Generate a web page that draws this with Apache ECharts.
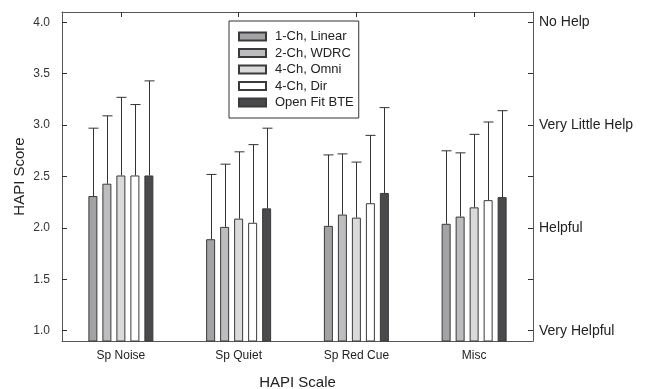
<!DOCTYPE html>
<html>
<head>
<meta charset="utf-8">
<script src="https://cdn.jsdelivr.net/npm/echarts@6/dist/echarts.min.js"></script>
<style>
  html, body { margin: 0; padding: 0; background: #fff; }
  #chart { width: 647px; height: 389px; }
</style>
</head>
<body>
<div id="chart"></div>
<script>
// HAPI scale categories and hearing-aid conditions
var categories = ['Sp Noise', 'Sp Quiet', 'Sp Red Cue', 'Misc'];
var seriesNames = ['1-Ch, Linear', '2-Ch, WDRC', '4-Ch, Omni', '4-Ch, Dir', 'Open Fit BTE'];

// mean scores, one array per condition (in category order)
var linear1 = [2.31, 1.89, 2.02, 2.04];
var wdrc2 = [2.43, 2.01, 2.13, 2.11];
var omni4 = [2.51, 2.09, 2.10, 2.20];
var dir4 = [2.51, 2.05, 2.24, 2.27];
var openFit = [2.51, 2.19, 2.34, 2.30];

// top of the error bar for each mean
var linear1Top = [2.97, 2.52, 2.71, 2.75];
var wdrc2Top = [3.09, 2.62, 2.72, 2.73];
var omni4Top = [3.27, 2.74, 2.64, 2.91];
var dir4Top = [3.20, 2.81, 2.90, 3.03];
var openFitTop = [3.43, 2.97, 3.17, 3.14];

var scoreTicks = [1.0, 1.5, 2.0, 2.5, 3.0, 3.5, 4.0];
var helpTicks = [1, 2, 3, 4];
var helpLabels = ['Very Helpful', 'Helpful', 'Very Little Help', 'No Help'];

var means = [linear1, wdrc2, omni4, dir4, openFit];
var tops = [linear1Top, wdrc2Top, omni4Top, dir4Top, openFitTop];
var colors = ['#a3a3a6', '#bdbdc0', '#dadada', '#ffffff', '#4a4a4d'];

var font = 'Liberation Sans, Arial, sans-serif';
var barW = 9;
var gap = 5;

var chart = echarts.init(document.getElementById('chart'));

var series = [];
for (var s = 0; s < seriesNames.length; s++) {
  series.push({
    name: seriesNames[s],
    type: 'bar',
    data: means[s],
    barWidth: barW,
    barGap: (gap / barW * 100) + '%',
    itemStyle: { color: colors[s], borderColor: '#3a3a3a', borderWidth: 1 },
    emphasis: { disabled: true }
  });
}
for (var e = 0; e < seriesNames.length; e++) {
  var errData = [];
  for (var c = 0; c < categories.length; c++) {
    errData.push([c, means[e][c], tops[e][c]]);
  }
  (function (idx) {
    series.push({
      type: 'custom',
      name: 'err' + idx,
      data: errData,
      z: 3,
      silent: true,
      renderItem: function (params, api) {
        var off = (idx - 2) * (barW + gap);
        var p0 = api.coord([api.value(0), api.value(1)]);
        var p1 = api.coord([api.value(0), api.value(2)]);
        var x = Math.round(p0[0] + off) + 0.5;
        var st = { stroke: '#333', lineWidth: 1 };
        return {
          type: 'group',
          children: [
            { type: 'line', shape: { x1: x, y1: p0[1], x2: x, y2: p1[1] }, style: st },
            { type: 'line', shape: { x1: x - 5, y1: p1[1], x2: x + 5, y2: p1[1] }, style: st }
          ]
        };
      }
    });
  })(e);
}

var axisLineStyle = { color: '#555', width: 1 };

chart.setOption({
  animation: false,
  textStyle: { fontFamily: font },
  grid: { left: 62, right: 114, top: 12, bottom: 48, outerBoundsMode: 'none', containLabel: false },
  legend: {
    data: seriesNames,
    orient: 'vertical',
    left: 229,
    top: 21,
    icon: 'rect',
    itemWidth: 27,
    itemHeight: 8,
    itemGap: 1.5,
    padding: [8, 5, 8, 9],
    borderColor: '#333',
    borderWidth: 1,
    textStyle: { fontSize: 13, color: '#222', lineHeight: 15, padding: [0, 0, 0, 4], fontFamily: font },
    selectedMode: false
  },
  xAxis: [{
    type: 'category',
    data: categories,
    position: 'bottom',
    axisLine: { lineStyle: axisLineStyle },
    axisTick: { show: false },
    axisLabel: { fontSize: 12, color: '#222', margin: 9 },
    name: 'HAPI Scale',
    nameLocation: 'middle',
    nameGap: 34,
    nameMoveOverlap: false,
    nameTextStyle: { fontSize: 15, color: '#222' }
  }, {
    type: 'category',
    data: categories,
    position: 'top',
    axisLine: { lineStyle: axisLineStyle },
    axisTick: { show: true, inside: true, alignWithLabel: true, length: 5, lineStyle: { color: '#333' } },
    axisLabel: { show: false }
  }],
  yAxis: [{
    type: 'value',
    min: 0.9,
    max: 4.1,
    position: 'left',
    splitLine: { show: false },
    axisLine: { show: true, lineStyle: axisLineStyle },
    axisTick: { show: true, inside: true, length: 5, customValues: scoreTicks, lineStyle: { color: '#333' } },
    axisLabel: {
      customValues: scoreTicks, fontSize: 12, color: '#333', margin: 12,
      formatter: function (v) { return v.toFixed(1); }
    },
    name: 'HAPI Score',
    nameLocation: 'middle',
    nameGap: 35,
    nameMoveOverlap: false,
    nameTextStyle: { fontSize: 15, color: '#222' }
  }, {
    type: 'value',
    min: 0.9,
    max: 4.1,
    position: 'right',
    splitLine: { show: false },
    axisLine: { show: true, lineStyle: axisLineStyle },
    axisTick: { show: true, inside: true, length: 5, customValues: scoreTicks, lineStyle: { color: '#333' } },
    axisLabel: {
      customValues: helpTicks, fontSize: 14, color: '#222', margin: 6,
      formatter: function (v) {
        var i = helpTicks.indexOf(Math.round(v));
        return i >= 0 ? helpLabels[i] : '';
      }
    }
  }],
  series: series
});
</script>
</body>
</html>
